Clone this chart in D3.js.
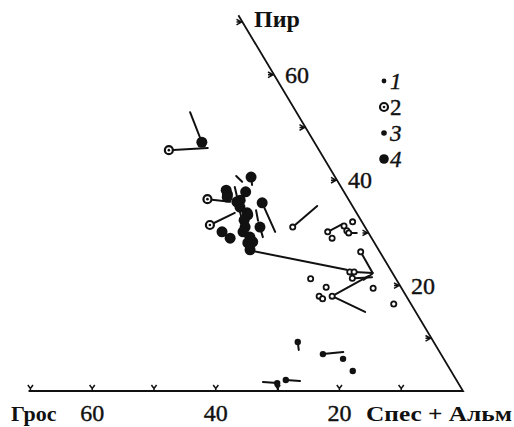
<!DOCTYPE html>
<html><head><meta charset="utf-8">
<script src="https://cdn.jsdelivr.net/npm/d3@7"></script>
<style>body{margin:0;background:#fff}svg{display:block}</style>
</head><body>
<svg id="c" width="514" height="427"></svg>
<script>
// ternary values: [Грос %, Пир %]
const type1 = [[11.7,31.1],[6.5,30.2],[6.4,29.0],[3.3,31.3],[3.3,30.4],[3.2,30.0],[1.5,32.1],
  [3.1,26.4],[6.8,22.6],[6.1,22.6],[7.0,21.4],[13.8,21.3],[12.1,19.7],[14.1,18.0],[13.8,17.5],
  [12.0,18.0],[4.6,19.5],[2.8,16.5]];
const type2 = [[24.3,45.7],[22.8,36.4],[24.9,31.5]];
const type3 = [[22.0,9.3],[19.1,7.0],[16.3,6.1],[15.9,3.8],[27.6,2.1],[29.3,1.5]];
const type4 = [[18.2,47.2],[13.6,40.6],[18.9,38.1],[19.1,37.3],[15.9,37.8],[19.4,36.8],[18.3,35.9],
  [17.6,36.2],[14.3,35.7],[18.3,34.9],[17.7,33.8],[17.8,33.4],[18.9,32.4],[19.4,31.1],[17.0,31.1],
  [23.6,30.2],[22.9,29.0],[20.2,30.2],[19.6,29.2],[20.5,28.1],[19.6,28.3],[20.8,26.8]];
// segments [Грос1, Пир1, Грос2, Пир2]
const links = [[18.2,47.2,17.2,52.9],[24.3,45.7,17.8,46.1],[13.6,40.6,14.2,39.1],[15.9,40.8,15.5,39.7],
  [17.2,38.7,17.8,36.8],[15.9,37.8,17.6,35.7],[22.8,36.4,19.4,35.9],[14.3,35.7,15.0,30.2],
  [16.0,34.3,16.7,32.3],[24.9,31.5,19.7,33.8],[17.0,31.1,17.5,29.2],[18.4,35.3,20.6,27.3],
  [20.6,26.6,7.1,23.0],[11.7,31.1,5.7,35.1],[6.5,30.2,3.3,31.7],[3.2,30.0,1.9,30.0],
  [3.1,26.4,3.2,22.4],[6.0,22.6,3.2,22.4],[6.6,21.4,3.7,21.6],[3.4,22.2,5.3,21.1],
  [12.0,18.0,4.2,21.8],[12.0,18.0,8.2,15.0],[22.0,9.3,22.6,7.8],[19.1,7.0,15.6,7.4],
  [27.6,2.1,25.4,1.9],[31.5,1.7,29.3,1.5],[29.3,1.5,29.9,0]];
const grosTicks = [10,20,30,40,50,60,70];
const grosLabels = [20,40,60];
const pirTicks = [10,20,30,40,50,60,70];
const pirLabels = [20,40,60];
const legendItems = ["1","2","3","4"];

const svg = d3.select("#c");
const ink = "#111";
const gx = d3.scaleLinear().domain([0,70]).range([463, 463-6.18*70]);
const px = d3.scaleLinear().domain([0,70]).range([0, -3.15*70]);
const py = d3.scaleLinear().domain([0,70]).range([391, 391-5.27*70]);
const P = (g,p) => [gx(g)+px(p), py(p)];

// axes
const [b0x,b0y] = P(70.3,0), [cx,cy] = P(0,0), [t0x,t0y] = P(0,71.3);
svg.append("path").attr("d",`M${b0x},${b0y}L${cx},${cy}L${t0x},${t0y}`)
  .attr("fill","none").attr("stroke",ink).attr("stroke-width",1.8);
grosTicks.forEach(v=>{
  const [x,y]=P(v,0);
  svg.append("path").attr("d",`M${x},${y}V${y-3}M${x-2.6},${y-6}L${x},${y-2.5}L${x+2.6},${y-6}`)
    .attr("fill","none").attr("stroke",ink).attr("stroke-width",1.5);
});
pirTicks.forEach(v=>{
  const [x,y]=P(0,v);
  svg.append("path").attr("d",`M${x-6},${y-2.8}L${x-1},${y}L${x-6},${y+2.8}M${x-6},${y}H${x}`)
    .attr("fill","none").attr("stroke",ink).attr("stroke-width",1.5);
});
const serif = "'Liberation Serif','Times New Roman',serif";
grosLabels.forEach(v=>{
  svg.append("text").attr("x",gx(v)).attr("y",421).attr("text-anchor","middle")
    .attr("font-family",serif).attr("font-size",24).attr("stroke",ink).attr("stroke-width",0.4)
    .attr("fill",ink).text(v);
});
pirLabels.forEach(v=>{
  const [x,y]=P(0,v);
  svg.append("text").attr("x",x+11).attr("y",y+8)
    .attr("font-family",serif).attr("font-size",24).attr("stroke",ink).attr("stroke-width",0.4)
    .attr("fill",ink).text(v);
});
svg.append("text").attr("x",11).attr("y",421).attr("font-family",serif).attr("font-weight","bold")
  .attr("font-size",22).attr("fill",ink).text("Грос");
svg.append("text").attr("x",366).attr("y",421).attr("font-family",serif).attr("font-weight","bold")
  .attr("font-size",22).attr("fill",ink).attr("textLength",146).attr("lengthAdjust","spacingAndGlyphs")
  .text("Спес + Альм");
svg.append("text").attr("x",254).attr("y",27).attr("font-family",serif).attr("font-weight","bold")
  .attr("font-size",24).attr("fill",ink).text("Пир");

// segments
svg.append("g").selectAll("line").data(links).join("line")
  .attr("x1",d=>P(d[0],d[1])[0]).attr("y1",d=>P(d[0],d[1])[1])
  .attr("x2",d=>P(d[2],d[3])[0]).attr("y2",d=>P(d[2],d[3])[1])
  .attr("stroke",ink).attr("stroke-width",2).attr("stroke-linecap","round");

// markers
function m1(g,x,y,r){g.append("circle").attr("cx",x).attr("cy",y).attr("r",r||2.6).attr("fill","#fff").attr("stroke",ink).attr("stroke-width",1.8);}
function m2(g,x,y){g.append("circle").attr("cx",x).attr("cy",y).attr("r",4).attr("fill","#fff").attr("stroke",ink).attr("stroke-width",2.2);
  g.append("circle").attr("cx",x).attr("cy",y).attr("r",1.3).attr("fill",ink);}
function m3(g,x,y,r){g.append("circle").attr("cx",x).attr("cy",y).attr("r",r||3.2).attr("fill",ink);}
function m4(g,x,y,r){g.append("circle").attr("cx",x).attr("cy",y).attr("r",r||5.5).attr("fill",ink);}
const gm = svg.append("g");
type4.forEach(d=>{const [x,y]=P(...d); m4(gm,x,y);});
type3.forEach(d=>{const [x,y]=P(...d); m3(gm,x,y);});
type2.forEach(d=>{const [x,y]=P(...d); m2(gm,x,y);});
type1.forEach(d=>{const [x,y]=P(...d); m1(gm,x,y);});

// legend
const lg = svg.append("g");
const ly = d3.scaleBand().domain(legendItems).range([68,172]);
const markers = {"1":(x,y)=>m3(lg,x,y,2.4),"2":(x,y)=>m2(lg,x,y),"3":(x,y)=>m3(lg,x,y,2.8),"4":(x,y)=>m4(lg,x,y,4.8)};
legendItems.forEach(k=>{
  const y = ly(k)+ly.bandwidth()/2;
  markers[k](384,y);
  lg.append("text").attr("x",390).attr("y",y+8).attr("font-family",serif)
    .attr("font-style",k==="2"?"normal":"italic").attr("font-size",23).attr("stroke",ink).attr("stroke-width",0.4)
    .attr("fill",ink).text(k);
});
</script>
</body></html>
